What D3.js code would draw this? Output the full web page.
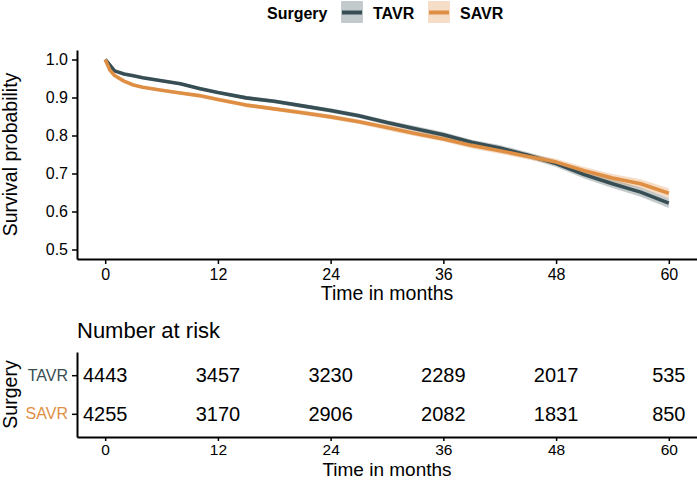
<!DOCTYPE html>
<html>
<head>
<meta charset="utf-8">
<script src="https://cdn.jsdelivr.net/npm/d3@7"></script>
<style>
  html, body { margin: 0; padding: 0; background: #fff; }
  svg { display: block; font-family: "Liberation Sans", Arial, sans-serif; }
</style>
</head>
<body>
<svg id="chart" width="697" height="480"></svg>
<script>
// ---- data ----
const groups = ["TAVR", "SAVR"];
const groupColors = ["#374E55", "#DF8F44"];
const times = [0, 0.5, 1, 2, 3, 4, 6, 8, 10, 12, 15, 18, 21, 24, 27, 30, 33, 36, 39, 42, 45, 48, 51, 54, 57, 60];
const tavrSurv = [1.000, 0.985, 0.970, 0.962, 0.957, 0.952, 0.944, 0.936, 0.924, 0.913, 0.899, 0.890, 0.878, 0.866, 0.852, 0.834, 0.818, 0.802, 0.782, 0.767, 0.748, 0.726, 0.697, 0.673, 0.651, 0.622];
const savrSurv = [1.000, 0.972, 0.958, 0.943, 0.933, 0.927, 0.919, 0.912, 0.905, 0.895, 0.880, 0.870, 0.860, 0.849, 0.836, 0.821, 0.805, 0.791, 0.774, 0.760, 0.745, 0.730, 0.707, 0.688, 0.673, 0.648];
const tavrCI = [0.000, 0.002, 0.003, 0.003, 0.003, 0.003, 0.004, 0.004, 0.004, 0.004, 0.005, 0.005, 0.005, 0.006, 0.006, 0.006, 0.007, 0.007, 0.007, 0.008, 0.008, 0.009, 0.010, 0.011, 0.012, 0.013];
const savrCI = [0.000, 0.002, 0.003, 0.003, 0.004, 0.004, 0.004, 0.004, 0.005, 0.005, 0.005, 0.005, 0.006, 0.006, 0.006, 0.007, 0.007, 0.007, 0.008, 0.008, 0.008, 0.009, 0.010, 0.011, 0.012, 0.013];
const xTicks = [0, 12, 24, 36, 48, 60];
const yTicks = [0.5, 0.6, 0.7, 0.8, 0.9, 1.0];
const riskTimes = [0, 12, 24, 36, 48, 60];
const tavrRisk = [4443, 3457, 3230, 2289, 2017, 535];
const savrRisk = [4255, 3170, 2906, 2082, 1831, 850];

const svg = d3.select("#chart");
const survData = [tavrSurv, savrSurv];
const ciData = [tavrCI, savrCI];
const riskData = [tavrRisk, savrRisk];

// ---- scales ----
const x = d3.scaleLinear().domain([-3, 63]).range([77, 697]);
const y = d3.scaleLinear().domain([0.475, 1.025]).range([259, 50]);
const yRisk = d3.scalePoint().domain(groups).range([352, 437]).padding(0.6);

// ---- legend ----
const legend = svg.append("g");
legend.append("text").attr("x", 267).attr("y", 18.5)
  .attr("font-size", 16).attr("font-weight", "bold").attr("fill", "#000").text("Surgery");
const keyX = [341, 428];
const labX = [373, 460];
groups.forEach((g, i) => {
  legend.append("rect").attr("x", keyX[i]).attr("y", 1).attr("width", 22).attr("height", 22)
    .attr("fill", groupColors[i]).attr("fill-opacity", 0.3);
  legend.append("line").attr("x1", keyX[i] + 1).attr("x2", keyX[i] + 21)
    .attr("y1", 12.5).attr("y2", 12.5).attr("stroke", groupColors[i]).attr("stroke-width", 4);
  legend.append("text").attr("x", labX[i]).attr("y", 18.5)
    .attr("font-size", 16).attr("font-weight", "bold").attr("fill", "#000").text(g);
});

// ---- survival curves ----
const plot = svg.append("g");
const area = d3.area()
  .x(d => x(d.t)).y0(d => y(d.s - d.h)).y1(d => y(d.s + d.h));
const line = d3.line().x(d => x(d.t)).y(d => y(d.s));

const series = groups.map((g, i) => times.map((t, j) => ({ t, s: survData[i][j], h: ciData[i][j] })));
series.forEach((pts, i) => {
  plot.append("path").datum(pts).attr("d", area)
    .attr("fill", groupColors[i]).attr("fill-opacity", 0.3).attr("stroke", "none");
});
series.forEach((pts, i) => {
  plot.append("path").datum(pts).attr("d", line)
    .attr("fill", "none").attr("stroke", groupColors[i]).attr("stroke-width", 3.6)
    .attr("stroke-linejoin", "round").attr("stroke-linecap", "butt");
});

// ---- axes ----
function styleAxis(g, fs) {
  g.select(".domain").attr("stroke", "#000").attr("stroke-width", 2);
  g.selectAll(".tick line").attr("stroke", "#000").attr("stroke-width", 1.5);
  g.selectAll(".tick text").attr("fill", "#000").attr("font-size", fs)
    .attr("font-family", "Liberation Sans, Arial, sans-serif");
}
const xAxis = svg.append("g").attr("transform", "translate(0,259)")
  .call(d3.axisBottom(x).tickValues(xTicks).tickSize(5).tickPadding(5).tickSizeOuter(0));
styleAxis(xAxis, 16);
const yAxis = svg.append("g").attr("transform", "translate(77,0)")
  .call(d3.axisLeft(y).tickValues(yTicks).tickFormat(d3.format(".1f")).tickSize(5).tickPadding(4).tickSizeOuter(0));
styleAxis(yAxis, 16);

svg.append("text").attr("x", x(30)).attr("y", 300).attr("text-anchor", "middle")
  .attr("font-size", 19.5).attr("fill", "#000").text("Time in months");
svg.append("text").attr("transform", "translate(17,154.5) rotate(-90)").attr("text-anchor", "middle")
  .attr("font-size", 19.5).attr("fill", "#000").text("Survival probability");

// ---- risk table ----
svg.append("text").attr("x", 77).attr("y", 338).attr("font-size", 22).attr("fill", "#000").text("Number at risk");

const table = svg.append("g");
groups.forEach((g, i) => {
  table.selectAll(null).data(riskTimes).enter().append("text")
    .attr("x", d => x(d)).attr("y", yRisk(g)).attr("dy", "0.36em")
    .attr("text-anchor", "middle").attr("font-size", 20).attr("fill", "#000")
    .text((d, j) => riskData[i][j]);
});

const xAxis2 = svg.append("g").attr("transform", "translate(0,437)")
  .call(d3.axisBottom(x).tickValues(xTicks).tickSize(4).tickPadding(3).tickSizeOuter(0));
styleAxis(xAxis2, 15.5);
const yAxis2 = svg.append("g").attr("transform", "translate(77,0)")
  .call(d3.axisLeft(yRisk).tickSize(5).tickPadding(4).tickSizeOuter(0));
styleAxis(yAxis2, 16);
yAxis2.selectAll(".tick text").attr("fill", (d, i) => groupColors[groups.indexOf(d)]);

svg.append("text").attr("x", x(30)).attr("y", 476).attr("text-anchor", "middle")
  .attr("font-size", 19).attr("fill", "#000").text("Time in months");
svg.append("text").attr("transform", "translate(17,394.5) rotate(-90)").attr("text-anchor", "middle")
  .attr("font-size", 19.5).attr("fill", "#000").text("Surgery");
</script>
</body>
</html>
